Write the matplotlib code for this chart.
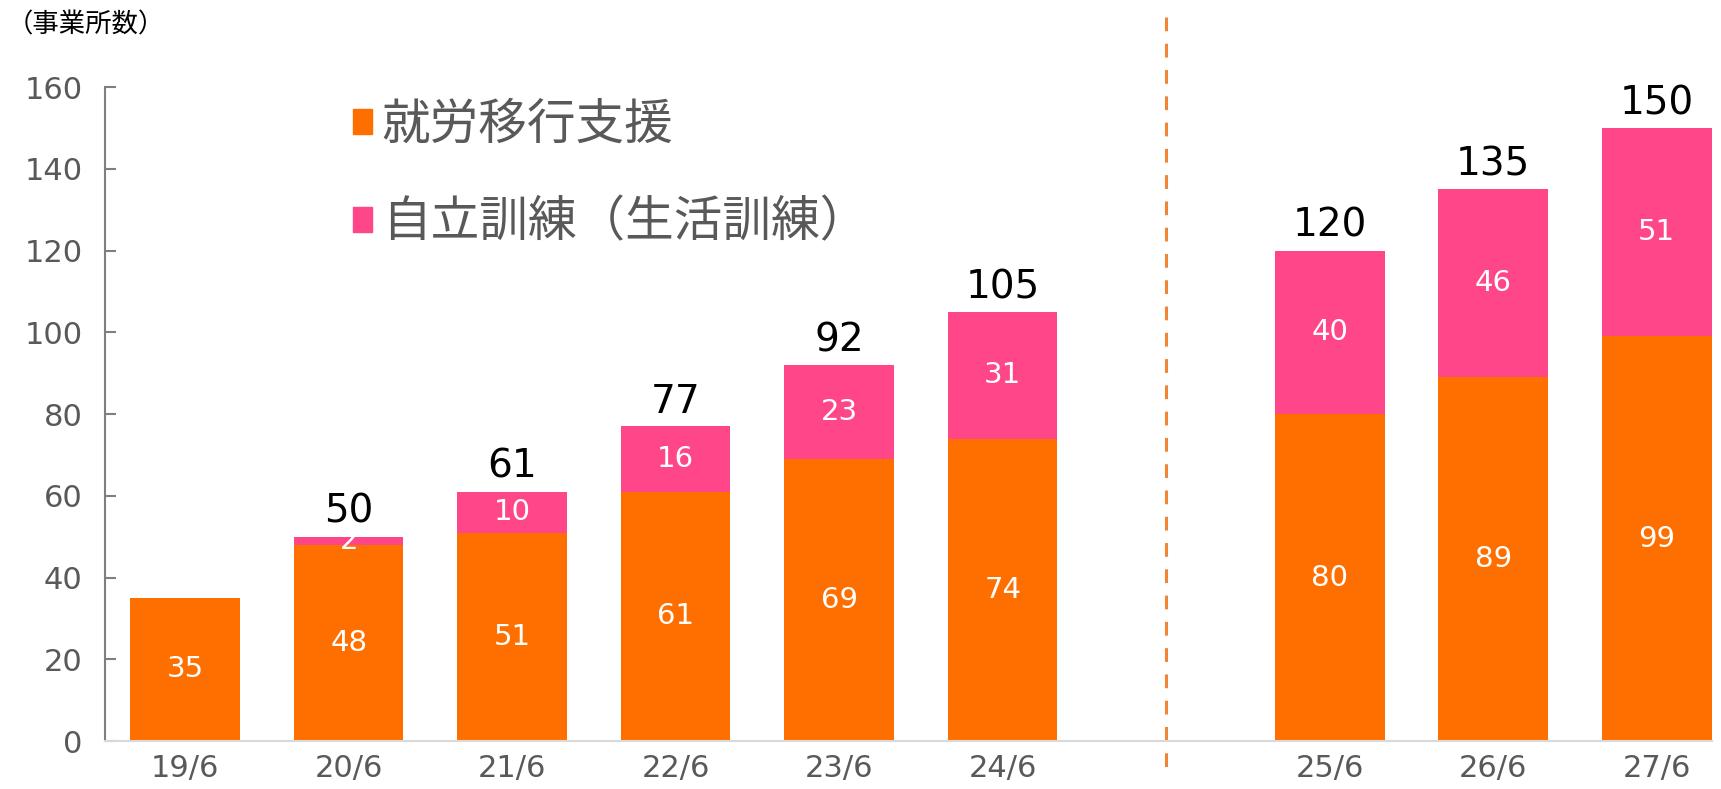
import numpy as np
import matplotlib.pyplot as plt
from matplotlib.patches import Patch

plt.rcParams['font.family'] = ['DejaVu Sans', 'Noto Sans CJK JP']
cjk = ['Noto Sans CJK JP', 'DejaVu Sans']

# data
categories = ['19/6', '20/6', '21/6', '22/6', '23/6', '24/6', '25/6', '26/6', '27/6']
shuro = [35, 48, 51, 61, 69, 74, 80, 89, 99]      # 就労移行支援
jiritsu = [0, 2, 10, 16, 23, 31, 40, 46, 51]      # 自立訓練(生活訓練)
series_names = ['就労移行支援', '自立訓練（生活訓練）']

c_orange = '#FF6F00'
c_pink = '#FF4689'
c_gray = '#595959'

# leave one empty slot between actual and plan
x = np.array([i if i < 6 else i + 1 for i in range(len(categories))])

fig = plt.figure(figsize=(17.21, 7.89), dpi=100)
ax = fig.add_axes([0.061, 0.0608, 0.934, 0.8289])

w = 0.67
ax.bar(x, shuro, w, color=c_orange, edgecolor='none')
ax.bar(x, jiritsu, w, bottom=shuro, color=c_pink, edgecolor='none')

for xi, a, b in zip(x, shuro, jiritsu):
    ax.text(xi, a / 2, str(a), ha='center', va='center', color='white', fontsize=21)
    if b > 0:
        ax.text(xi, a + b / 2, str(b), ha='center', va='center', color='white', fontsize=21)
        ax.text(xi, a + b + 1.4, str(a + b), ha='center', va='bottom', color='black',
                fontsize=28)

# separator between actual and plan (drawn from the top so it starts with a dash)
ax.plot([6, 6], [1.107, -0.041], transform=ax.get_xaxis_transform(), color='#F08535',
        lw=2.2, dashes=(4.5, 4.1), clip_on=False)

ax.set_xlim(-0.49, 9.34)
ax.set_ylim(0, 160)
ax.set_yticks(np.arange(0, 161, 20))
ax.set_xticks(x)
ax.set_xticklabels(categories)

ax.tick_params(axis='y', direction='in', length=8, width=1.5, color='#7F7F7F',
               labelsize=22, labelcolor=c_gray, pad=16)
ax.tick_params(axis='x', length=0, labelsize=22, labelcolor=c_gray, pad=9)

for s in ['top', 'right']:
    ax.spines[s].set_visible(False)
ax.spines['left'].set_color('#7F7F7F')
ax.spines['left'].set_linewidth(1.5)
ax.spines['bottom'].set_color('#D9D9D9')
ax.spines['bottom'].set_linewidth(1.5)

handles = [Patch(color=c_orange), Patch(color=c_pink)]
leg = ax.legend(handles, series_names, loc='upper left', bbox_to_anchor=(0.154, 0.98),
                frameon=False, prop={'family': cjk, 'size': 35}, handlelength=0.4,
                handleheight=0.4, handletextpad=0.2, labelspacing=1.0,
                borderpad=0, borderaxespad=0, labelcolor=c_gray)

fig.text(0.004, 0.985, '（事業所数）', fontsize=19, color='black', va='top', ha='left',
         family=cjk)

fig.savefig('out.png', dpi=100)
